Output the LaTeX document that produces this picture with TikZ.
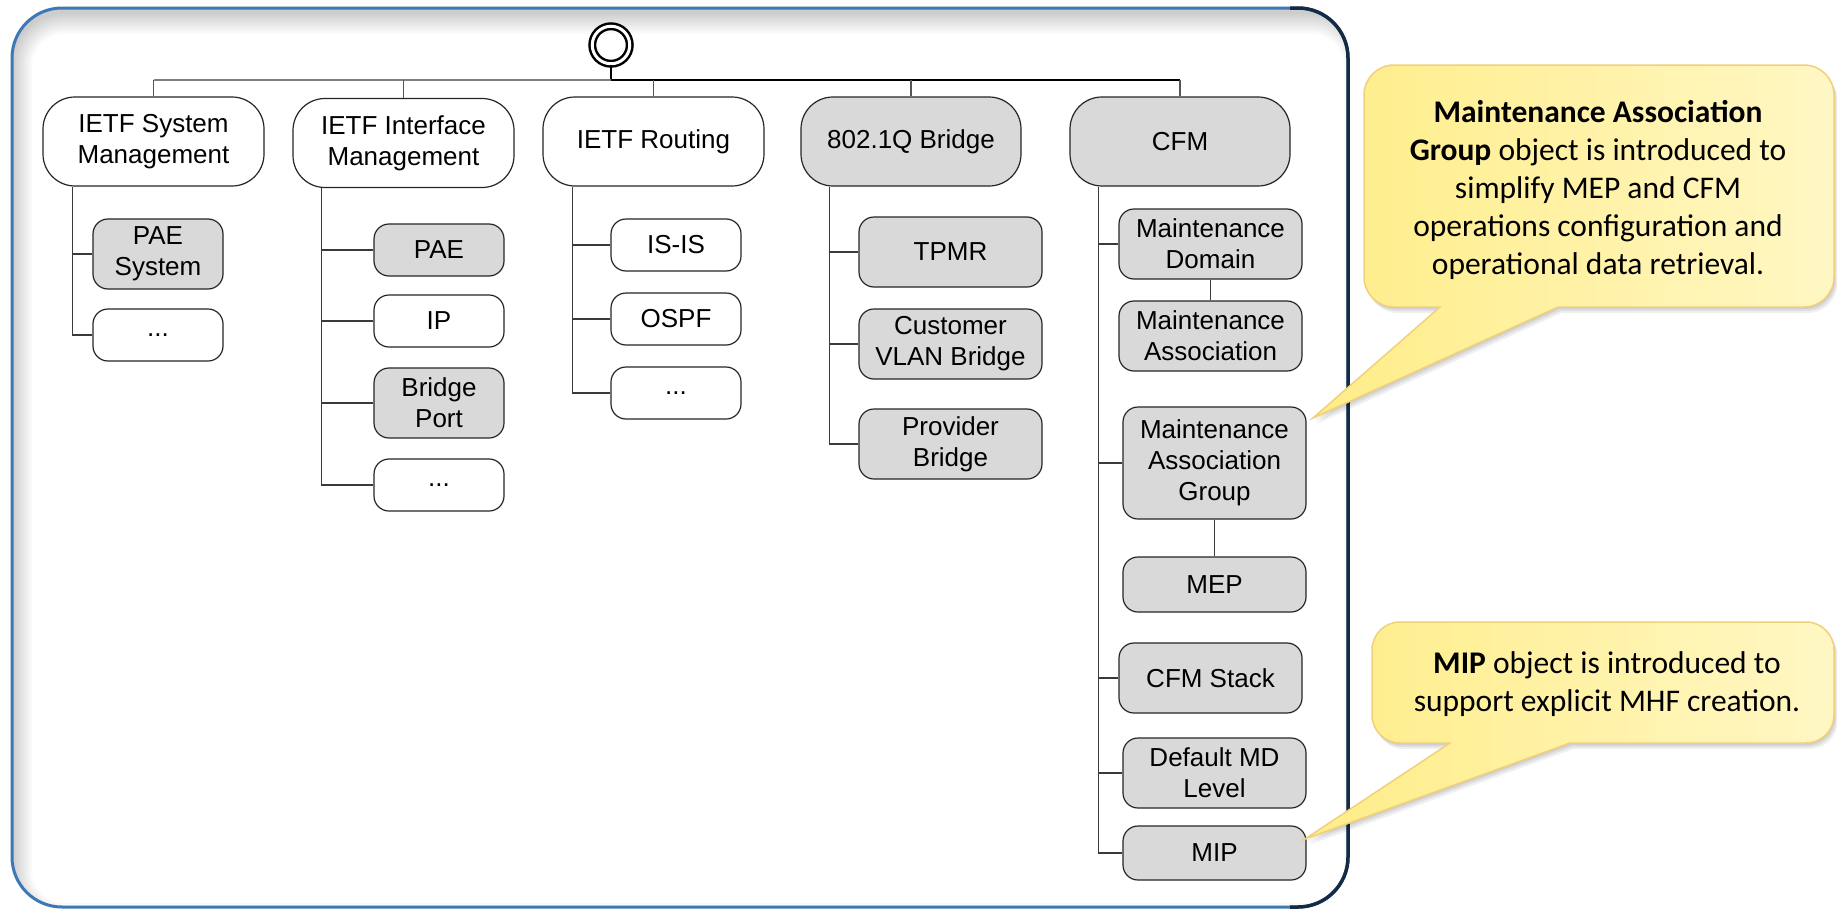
\documentclass[tikz,border=0pt]{standalone}
\usepackage{fontspec}
\setmainfont{Liberation Sans}
\newfontfamily\calib{Carlito}
\definecolor{boxgray}{HTML}{D9D9D9}
\definecolor{lineC}{HTML}{3A3A3A}
\definecolor{dropC}{HTML}{555555}
\definecolor{frameblue}{HTML}{3C78B4}
\definecolor{framedark}{HTML}{142B45}
\definecolor{callL}{HTML}{FFED88}
\definecolor{callR}{HTML}{FFF7C4}
\definecolor{callB}{HTML}{F2D07A}
\newcommand{\calloutpath}[9]{%
 (#7,#4) -- ({#3-#5},#4) .. controls ({#3-0.4477*#5},#4) and (#3,{#4-0.4477*#5}) .. (#3,{#4-#5})
 -- (#3,{#2+#5}) .. controls (#3,{#2+0.4477*#5}) and ({#3-0.4477*#5},#2) .. ({#3-#5},#2)
 -- ({#1+#5},#2) .. controls ({#1+0.4477*#5},#2) and (#1,{#2+0.4477*#5}) .. (#1,{#2+#5})
 -- (#1,{#4-#5}) .. controls (#1,{#4-0.4477*#5}) and ({#1+0.4477*#5},#4) .. ({#1+#5},#4)
 -- (#6,#4) -- (#8,#9) -- cycle}
\begin{document}
\begin{tikzpicture}[x=1pt,y=-1pt,
 topbox/.style={draw=black!85, line width=1.2pt, rounded corners=32pt, minimum width=221pt, minimum height=89pt, inner sep=0pt, align=center, font=\fontsize{26}{31}\selectfont},
 kid/.style={draw=black!85, line width=1.2pt, rounded corners=15pt, inner sep=0pt, align=center, font=\fontsize{26}{31}\selectfont},
 grayfill/.style={fill=boxgray},
 whitefill/.style={fill=white},
 conn/.style={draw=lineC, line width=1.4pt},
 dropline/.style={draw=dropC, line width=1.3pt},
 calltext/.style={align=center, inner sep=0pt, font=\calib\fontsize{31.5}{38}\selectfont},
]
\useasboundingbox (0,0) rectangle (1837,910);
\fill[white] (0,0) rectangle (1837,910);
% frame
\fill[white, rounded corners=50pt] (12,8) rectangle (1348,907);
\begin{scope}
 \clip[rounded corners=50pt] (12,8) rectangle (1348,907);
 \foreach \i in {0,...,9}{
  \fill[black, opacity=0.02, even odd rule] (-50,-50) rectangle (1900,1000)
   [rounded corners={50pt-2*\i pt}] ({14+2*\i},{14+2.2*\i}) rectangle ({1362-2*\i},{921-2*\i});
 }
\end{scope}
\draw[frameblue, line width=3pt, rounded corners=50pt] (12,8) rectangle (1348,907);
\begin{scope}
 \clip (1290,0) rectangle (1837,910);
 \draw[framedark, line width=3.5pt, rounded corners=50pt] (12,8) rectangle (1348,907);
\end{scope}

% root
\node[draw, double, double distance=3pt, line width=2.5pt, circle, minimum size=37.5pt, inner sep=0pt] (root) at (611,45) {};
\coordinate (bus) at (611,80);

% top level
\node[topbox,whitefill] (sys) at (153.5,141.5) {IETF System\\Management};
\node[topbox,whitefill] (iface) at (403.5,143) {IETF Interface\\Management};
\node[topbox,whitefill] (routing) at (653.5,141.5) {IETF Routing};
\node[topbox,grayfill,minimum width=220pt] (bridge) at (911,141.5) {802.1Q Bridge};
\node[topbox,grayfill,minimum width=220pt] (cfm) at (1180,141.5) {CFM};

\draw[line width=2pt, black] (root.south) -- (bus);
\draw[draw=black!50, line width=2.6pt] (bus) -- (bus -| sys.north);
\draw[line width=2pt, black] (bus) -- (bus -| cfm.north);
\foreach \n in {sys,iface,routing,bridge,cfm}{
 \draw[dropline] (bus -| \n.north) -- (\n.north);
}

% column 1
\node[kid,grayfill,minimum width=130pt,minimum height=70pt] (paesys) at (158,254) {PAE\\System};
\node[kid,whitefill,minimum width=130pt,minimum height=52pt] (dots1) at (158,335) {...};
% column 2
\node[kid,grayfill,minimum width=130pt,minimum height=52pt] (pae) at (439,250) {PAE};
\node[kid,whitefill,minimum width=130pt,minimum height=52pt] (ip) at (439,321) {IP};
\node[kid,grayfill,minimum width=130pt,minimum height=70pt] (bport) at (439,403) {Bridge\\Port};
\node[kid,whitefill,minimum width=130pt,minimum height=52pt] (dots2) at (439,485) {...};
% column 3
\node[kid,whitefill,minimum width=130pt,minimum height=52pt] (isis) at (676,245) {IS-IS};
\node[kid,whitefill,minimum width=130pt,minimum height=52pt] (ospf) at (676,319) {OSPF};
\node[kid,whitefill,minimum width=130pt,minimum height=52pt] (dots3) at (676,393) {...};
% column 4
\node[kid,grayfill,minimum width=183pt,minimum height=70pt] (tpmr) at (950.5,252) {TPMR};
\node[kid,grayfill,minimum width=183pt,minimum height=70pt] (cvlan) at (950.5,344) {Customer\\VLAN Bridge};
\node[kid,grayfill,minimum width=183pt,minimum height=70pt] (pb) at (950.5,444) {Provider\\Bridge};
% column 5
\node[kid,grayfill,minimum width=183pt,minimum height=70pt] (md) at (1210.5,244) {Maintenance\\Domain};
\node[kid,grayfill,minimum width=183pt,minimum height=70pt] (ma) at (1210.5,336) {Maintenance\\Association};
\node[kid,grayfill,minimum width=183pt,minimum height=112pt] (mag) at (1214.5,463) {Maintenance\\Association\\Group};
\node[kid,grayfill,minimum width=183pt,minimum height=55pt] (mep) at (1214.5,584.5) {MEP};
\node[kid,grayfill,minimum width=183pt,minimum height=70pt] (cfmstack) at (1210.5,678) {CFM Stack};
\node[kid,grayfill,minimum width=183pt,minimum height=70pt] (dmd) at (1214.5,773) {Default MD\\Level};
\node[kid,grayfill,minimum width=183pt,minimum height=54pt] (mip) at (1214.5,853) {MIP};

% spines
\coordinate (sp1) at ([xshift=30pt]sys.south west);
\coordinate (sp2) at ([xshift=29pt]iface.south west);
\coordinate (sp3) at ([xshift=30pt]routing.south west);
\coordinate (sp4) at ([xshift=29pt]bridge.south west);
\coordinate (sp5) at ([xshift=29pt]cfm.south west);

\draw[conn] (sp1) |- (dots1.west);
\draw[conn] (sp1 |- paesys.west) -- (paesys.west);

\draw[conn] (sp2) |- (dots2.west);
\foreach \n in {pae,ip,bport}{\draw[conn] (sp2 |- \n.west) -- (\n.west);}

\draw[conn] (sp3) |- (dots3.west);
\foreach \n in {isis,ospf}{\draw[conn] (sp3 |- \n.west) -- (\n.west);}

\draw[conn] (sp4) |- (pb.west);
\foreach \n in {tpmr,cvlan}{\draw[conn] (sp4 |- \n.west) -- (\n.west);}

\draw[conn] (sp5) |- (mip.west);
\foreach \n in {md,mag,cfmstack,dmd}{\draw[conn] (sp5 |- \n.west) -- (\n.west);}
\draw[conn] (md.south) -- (ma.north);
\draw[conn] (mag.south) -- (mep.north);

% callout 1
\foreach \s/\o in {2/0.07,4/0.07,6/0.06}{
 \begin{scope}[shift={(\s*0.6,\s)}]
  \fill[black,opacity=\o] \calloutpath{1364}{65}{1834}{307}{30}{1440}{1558}{1313}{418};
 \end{scope}
}
\path[draw=callB, line width=1.5pt, left color=callL, right color=callR]
 \calloutpath{1364}{65}{1834}{307}{30}{1440}{1558}{1313}{418};
\node[calltext] (t1) at (1598,190) {\textbf{Maintenance Association}\\\textbf{Group} object is introduced to\\simplify MEP and CFM\\operations configuration and\\operational data retrieval.};

% callout 2
\foreach \s/\o in {2/0.07,4/0.07,6/0.06}{
 \begin{scope}[shift={(\s*0.6,\s)}]
  \fill[black,opacity=\o] \calloutpath{1372}{622}{1834}{743}{28}{1450}{1570}{1305}{839};
 \end{scope}
}
\path[draw=callB, line width=1.5pt, left color=callL, right color=callR]
 \calloutpath{1372}{622}{1834}{743}{28}{1450}{1570}{1305}{839};
\node[calltext] (t2) at (1607,684) {\textbf{MIP} object is introduced to\\support explicit MHF creation.};
\end{tikzpicture}
\end{document}
